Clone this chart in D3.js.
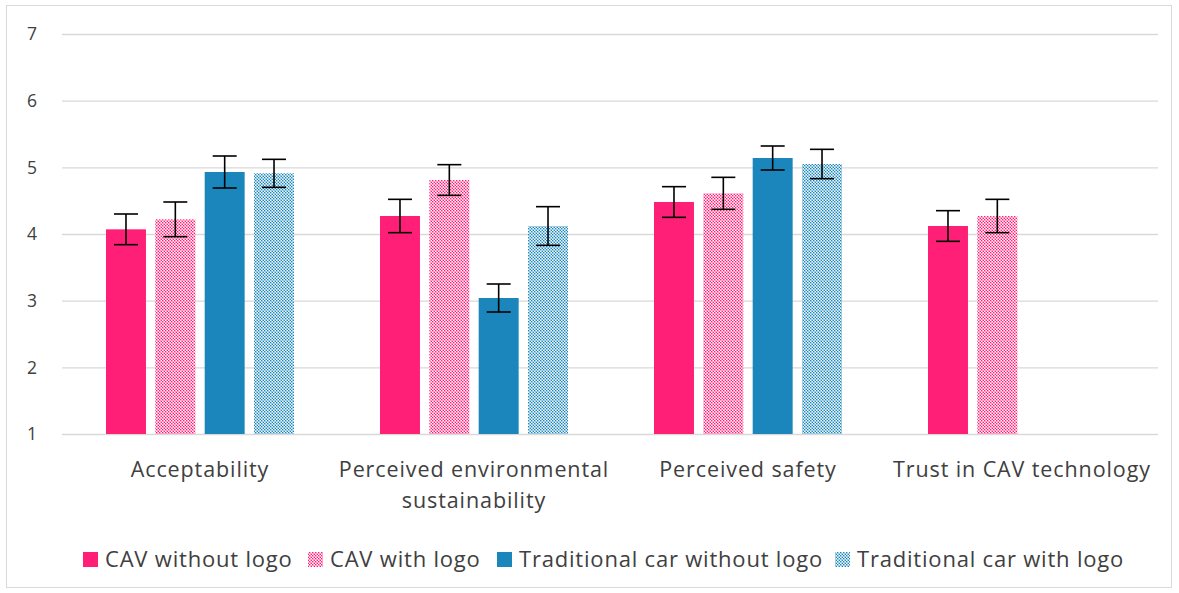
<!DOCTYPE html>
<html>
<head>
<meta charset="utf-8">
<script src="https://cdn.jsdelivr.net/npm/d3@7"></script>
<style>
  body { margin: 0; background: #fff; }
  svg text { font-family: "Open Sans", sans-serif; fill: #404040; }
</style>
</head>
<body>
<svg id="chart" width="1179" height="593"></svg>
<script>
const categories = ["Acceptability", "Perceived environmental sustainability", "Perceived safety", "Trust in CAV technology"];
const categoryLines = [["Acceptability"], ["Perceived environmental", "sustainability"], ["Perceived safety"], ["Trust in CAV technology"]];
const seriesNames = ["CAV without logo", "CAV with logo", "Traditional car without logo", "Traditional car with logo"];
const cavWithoutLogo = [4.07, 4.27, 4.48, 4.12];
const cavWithLogo = [4.22, 4.81, 4.61, 4.27];
const tradWithoutLogo = [4.93, 3.04, 5.14, null];
const tradWithLogo = [4.91, 4.12, 5.05, null];
const errCavWithoutLogo = [0.23, 0.25, 0.23, 0.23];
const errCavWithLogo = [0.26, 0.23, 0.24, 0.25];
const errTradWithoutLogo = [0.24, 0.21, 0.18, null];
const errTradWithLogo = [0.21, 0.29, 0.22, null];
const yTicks = [1, 2, 3, 4, 5, 6, 7];

(function () {
const seriesValues = [cavWithoutLogo, cavWithLogo, tradWithoutLogo, tradWithLogo];
const seriesErrors = [errCavWithoutLogo, errCavWithLogo, errTradWithoutLogo, errTradWithLogo];

const svg = d3.select("#chart");
const pink = "#FF1F77", blue = "#1A86BC";

const defs = svg.append("defs");
function checker(id, color) {
  const p = defs.append("pattern").attr("id", id).attr("patternUnits", "userSpaceOnUse")
    .attr("width", 3).attr("height", 3);
  p.append("rect").attr("width", 3).attr("height", 3).attr("fill", color).attr("opacity", 0.55);
  p.append("rect").attr("x", 0).attr("y", 0).attr("width", 1.5).attr("height", 1.5).attr("fill", color);
  p.append("rect").attr("x", 1.5).attr("y", 1.5).attr("width", 1.5).attr("height", 1.5).attr("fill", color);
  p.append("rect").attr("x", 1.5).attr("y", 0).attr("width", 1.5).attr("height", 1.5).attr("fill", "#fff").attr("opacity", 0.9);
  p.append("rect").attr("x", 0).attr("y", 1.5).attr("width", 1.5).attr("height", 1.5).attr("fill", "#fff").attr("opacity", 0.9);
}
checker("patPink", pink);
checker("patBlue", blue);
const fills = [pink, "url(#patPink)", blue, "url(#patBlue)"];

svg.append("rect").attr("x", 6.5).attr("y", 5.5).attr("width", 1165).attr("height", 582)
  .attr("fill", "none").attr("stroke", "#d9d9d9");

const pl = 62, pr = 1158, pt = 34, pb = 434;
const y = d3.scaleLinear().domain([1, 7]).range([pb, pt]);
const x0 = d3.scaleBand().domain(categories).range([pl, pr]).padding(0);
const groupW = 188;
const x1 = d3.scaleBand().domain(seriesNames).range([0, groupW]).paddingInner(0.19).paddingOuter(0.0);

svg.append("g").selectAll("line").data(yTicks).join("line")
  .attr("x1", pl).attr("x2", pr)
  .attr("y1", d => y(d) + 0.5).attr("y2", d => y(d) + 0.5)
  .attr("stroke", "#d9d9d9").attr("stroke-width", 1.3);

svg.append("g").selectAll("text").data(yTicks).join("text")
  .attr("x", 32).attr("y", d => y(d)).attr("dy", "0.36em")
  .attr("text-anchor", "middle").attr("font-size", 17.5).text(d => d);

const data = [];
categories.forEach((c, i) => {
  seriesNames.forEach((s, j) => {
    const v = seriesValues[j][i];
    if (v !== null) data.push({ c, s, j, v, e: seriesErrors[j][i] });
  });
});
const off = (x0.bandwidth() - groupW) / 2 + 1;
const gx = d => x0(d.c) + off + x1(d.s);

svg.append("g").selectAll("rect").data(data).join("rect")
  .attr("x", gx).attr("width", x1.bandwidth())
  .attr("y", d => y(d.v)).attr("height", d => y(1) - y(d.v))
  .attr("fill", d => fills[d.j]);

const eg = svg.append("g").attr("stroke", "#000").attr("stroke-width", 1.6);
const cap = 12;
data.forEach(d => {
  const cx = gx(d) + x1.bandwidth() / 2;
  eg.append("line").attr("x1", cx).attr("x2", cx).attr("y1", y(d.v + d.e)).attr("y2", y(d.v - d.e));
  eg.append("line").attr("x1", cx - cap).attr("x2", cx + cap).attr("y1", y(d.v + d.e)).attr("y2", y(d.v + d.e));
  eg.append("line").attr("x1", cx - cap).attr("x2", cx + cap).attr("y1", y(d.v - d.e)).attr("y2", y(d.v - d.e));
});

categories.forEach((c, i) => {
  const cx = x0(c) + x0.bandwidth() / 2 + 1;
  const t = svg.append("text").attr("x", cx).attr("y", 477)
    .attr("text-anchor", "middle").attr("font-size", 21.5).attr("letter-spacing", 0.9);
  categoryLines[i].forEach((ln, k) => {
    t.append("tspan").attr("x", cx).attr("dy", k === 0 ? 0 : 31).text(ln);
  });
});

const legendX = [83, 308, 497, 835];
const lg = svg.append("g");
seriesNames.forEach((s, j) => {
  lg.append("rect").attr("x", legendX[j]).attr("y", 552).attr("width", 15).attr("height", 15).attr("fill", fills[j]);
  lg.append("text").attr("x", legendX[j] + 22).attr("y", 559).attr("dy", "0.36em")
    .attr("font-size", 22).attr("letter-spacing", 0.8).text(s);
});
})();
</script>
</body>
</html>
